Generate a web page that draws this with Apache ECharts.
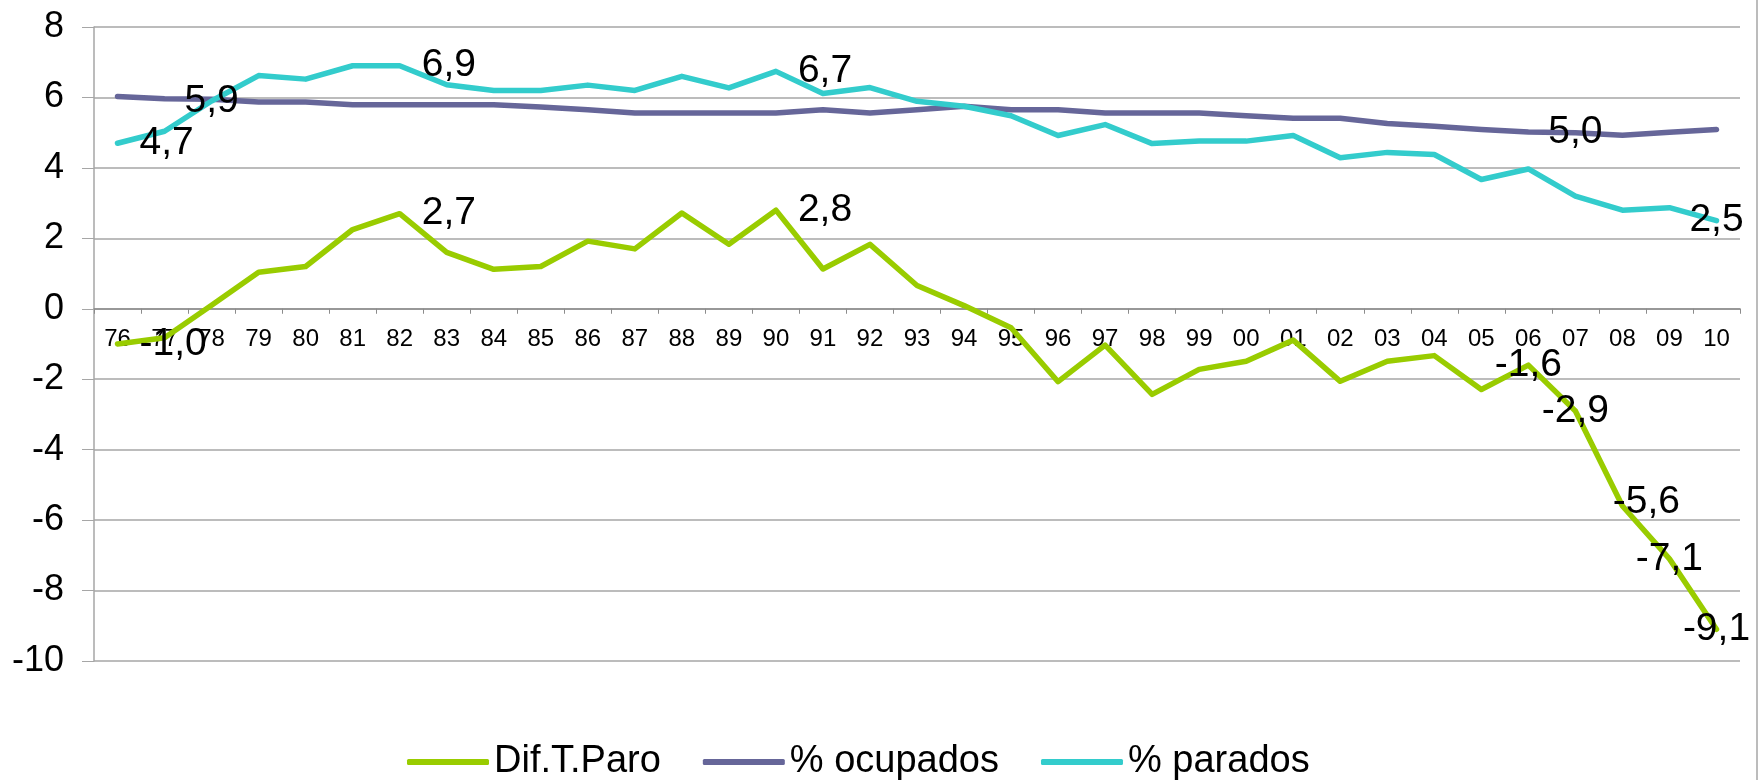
<!DOCTYPE html>
<html>
<head>
<meta charset="utf-8">
<script src="https://cdn.jsdelivr.net/npm/echarts@6/dist/echarts.min.js"></script>
<style>
  html, body { margin: 0; padding: 0; background: #fff; }
  #chart { width: 1758px; height: 780px; }
</style>
</head>
<body>
<div id="chart"></div>
<script>
var years = ['76', '77', '78', '79', '80', '81', '82', '83', '84', '85', '86', '87',
    '88', '89', '90', '91', '92', '93', '94', '95', '96', '97', '98', '99',
    '00', '01', '02', '03', '04', '05', '06', '07', '08', '09', '10'];

var difTParo = [-1.0, -0.82, 0.1, 1.04, 1.2, 2.25, 2.7, 1.6, 1.12, 1.2, 1.92, 1.7,
    2.72, 1.83, 2.8, 1.13, 1.83, 0.66, 0.09, -0.54, -2.07, -1.03, -2.43, -1.72,
    -1.49, -0.89, -2.06, -1.49, -1.33, -2.29, -1.6, -2.9, -5.6, -7.1, -9.1];

var ocupados = [6.03, 5.96, 5.95, 5.87, 5.87, 5.79, 5.79, 5.79, 5.79, 5.73, 5.65, 5.56,
    5.56, 5.56, 5.56, 5.65, 5.56, 5.65, 5.75, 5.65, 5.65, 5.56, 5.56, 5.56,
    5.48, 5.41, 5.41, 5.26, 5.18, 5.09, 5.02, 5.0, 4.93, 5.01, 5.09];

var parados = [4.7, 5.04, 5.9, 6.62, 6.52, 6.9, 6.9, 6.36, 6.2, 6.2, 6.35, 6.2,
    6.6, 6.27, 6.74, 6.11, 6.28, 5.89, 5.75, 5.48, 4.92, 5.23, 4.69, 4.76,
    4.76, 4.92, 4.29, 4.44, 4.38, 3.67, 3.97, 3.2, 2.8, 2.87, 2.5];

// which points carry a value label, and how it sits ('r' = right of point, 'c' = on it)
var difLabels = {'76': 'r', '82': 'r', '90': 'r', '06': 'c', '07': 'c', '08': 'c8', '09': 'c', '10': 'c'};
var ocupLabels = {'07': 'c'};
var parLabels = {'76': 'r', '78': 'c', '82': 'r', '90': 'r', '10': 'c'};

var yMin = -10, yMax = 8;
var gridTop = 27, gridBottom = 119;

var chartDom = document.getElementById('chart');
var myChart = echarts.init(chartDom, null, {renderer: 'canvas'});
var font = 'Liberation Sans, Arial, sans-serif';

function fmt(v) {
    return v.toFixed(1).replace('.', ',');
}

function withLabels(values, marks) {
    return values.map(function (v, i) {
        var how = marks[years[i]];
        if (!how) return v;
        var label = {show: true, fontSize: 39, fontFamily: font, color: '#000',
            formatter: function (p) { return fmt(p.value); }};
        if (how === 'r') {
            label.position = 'right';
            label.distance = 22;
        } else {
            label.position = 'inside';
            if (how === 'c8') label.offset = [24, -4];
        }
        return {value: v, label: label};
    });
}

function lineSeries(name, values, marks, color) {
    return {
        name: name,
        type: 'line',
        data: withLabels(values, marks),
        symbol: 'circle',
        symbolSize: 0,
        showAllSymbol: true,
        lineStyle: {width: 5.5, color: color, cap: 'round', join: 'round'},
        itemStyle: {color: color},
        label: {show: false},
        emphasis: {disabled: true},
        animation: false
    };
}

// the x axis sits on the zero line, as in the original
var plotH = 780 - gridTop - gridBottom;
var zeroOffset = -plotH * (0 - yMin) / (yMax - yMin);

var option = {
    backgroundColor: '#fff',
    textStyle: {fontFamily: font},
    grid: {left: 94, right: 18, top: gridTop, bottom: gridBottom},
    graphic: [{
        type: 'line',
        shape: {x1: 1757, y1: 0, x2: 1757, y2: 780},
        style: {stroke: '#a6a6a6', lineWidth: 1.5}
    }],
    legend: {
        left: 402,
        top: 738,
        icon: 'roundRect',
        itemWidth: 82,
        itemHeight: 6,
        itemGap: 42,
        textStyle: {fontSize: 38, fontFamily: font, color: '#000'},
        data: ['Dif.T.Paro', '% ocupados', '% parados']
    },
    xAxis: {
        type: 'category',
        data: years,
        offset: zeroOffset,
        axisLine: {onZero: false, lineStyle: {color: '#8c8c8c', width: 1.5}},
        axisTick: {show: true, length: 5, lineStyle: {color: '#8c8c8c'}},
        axisLabel: {interval: 0, fontSize: 24, color: '#000', margin: 19}
    },
    yAxis: {
        type: 'value',
        min: yMin,
        max: yMax,
        interval: 2,
        axisLine: {show: true, lineStyle: {color: '#a6a6a6', width: 1.5}},
        axisTick: {show: true, length: 12, lineStyle: {color: '#a6a6a6'}},
        axisLabel: {fontSize: 36, color: '#000', margin: 30},
        splitLine: {lineStyle: {color: '#a6a6a6', width: 1.5}}
    },
    series: [
        lineSeries('Dif.T.Paro', difTParo, difLabels, '#99cc00'),
        lineSeries('% ocupados', ocupados, ocupLabels, '#666699'),
        lineSeries('% parados', parados, parLabels, '#33cccc')
    ]
};

option && myChart.setOption(option);
</script>
</body>
</html>
